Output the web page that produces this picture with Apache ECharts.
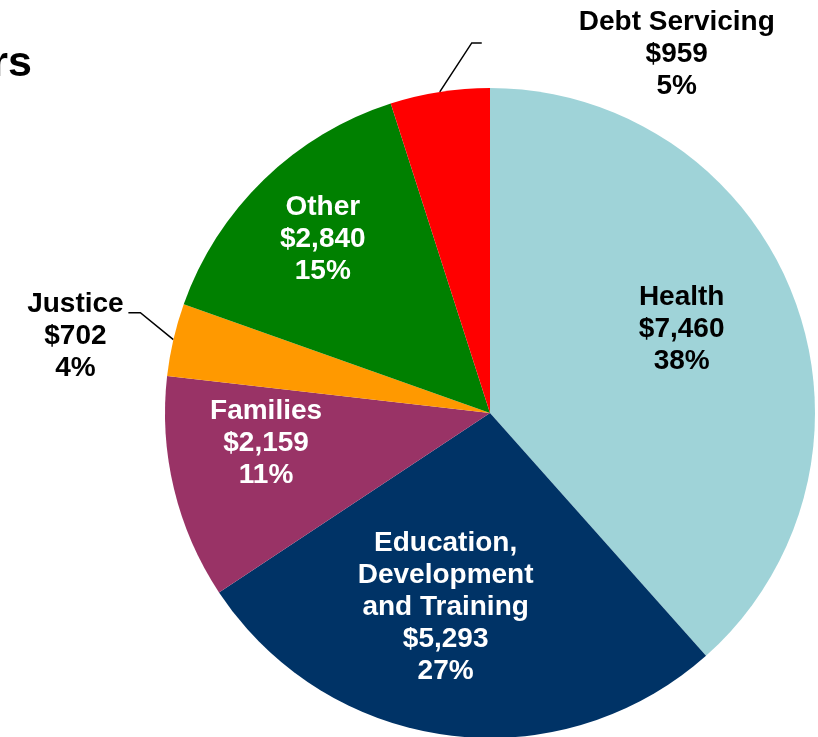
<!DOCTYPE html>
<html>
<head>
<meta charset="utf-8">
<script src="https://cdn.jsdelivr.net/npm/echarts@6/dist/echarts.min.js"></script>
<style>
  html, body { margin: 0; padding: 0; background: #fff; }
  #chart { width: 818px; height: 737px; }
</style>
</head>
<body>
<div id="chart"></div>
<script>
// spending by area ($ millions)
const categories = ['Health', 'Education,\nDevelopment\nand Training', 'Families', 'Justice', 'Other', 'Debt Servicing'];
const values = [7460, 5293, 2159, 702, 2840, 959];
const colors = ['#9fd3d8', '#003366', '#993366', '#ff9900', '#008000', '#ff0000'];
const labelColors = ['#000', '#fff', '#fff', '#000', '#fff', '#000'];
const outside = ['Justice', 'Debt Servicing'];

const FONT = '"Liberation Sans", Arial, sans-serif';

// nudges for the inside labels (px from echarts' default r/2 spot)
const insideOffset = {
	'Health': [37, -25],
	'Education,\nDevelopment\nand Training': [-23, 30],
	'Families': [-63, -8],
	'Other': [-52, -55]
};
// outside labels: label top-centre and leader bends, relative to arc anchor
const outsideLayout = {
	'Justice': { label: [-98, -51], bend: [-33, -27], end: [-45, -27] },
	'Debt Servicing': { label: [237, -86], bend: [32, -49], end: [42, -49] }
};

const chart = echarts.init(document.getElementById('chart'));

const data = categories.map((name, i) => {
	const isOut = outside.indexOf(name) >= 0;
	return {
		name: name,
		value: values[i],
		itemStyle: { color: colors[i] },
		label: isOut
			? { position: 'outside', color: labelColors[i] }
			: { position: 'inside', color: labelColors[i], offset: insideOffset[name] },
		labelLine: { show: isOut }
	};
});

chart.setOption({
	animation: false,
	graphic: [
		{
			type: 'text',
			x: 32,
			y: 64,
			style: {
				text: 'rs',
				font: 'bold 43px ' + FONT,
				fill: '#000',
				align: 'right',
				verticalAlign: 'middle'
			}
		}
	],
	series: [
		{
			type: 'pie',
			center: [490, 413],
			radius: 325,
			startAngle: 90,
			clockwise: true,
			avoidLabelOverlap: false,
			percentPrecision: 0,
			itemStyle: { borderWidth: 0 },
			label: {
				show: true,
				fontFamily: FONT,
				fontSize: 28,
				fontWeight: 'bold',
				lineHeight: 32,
				align: 'center',
				formatter: p => p.name + '\n$' + p.value.toLocaleString('en-US') + '\n' + p.percent + '%'
			},
			labelLine: {
				show: false,
				lineStyle: { color: '#000', width: 1.5 }
			},
			labelLayout: function (params) {
				const name = categories[params.dataIndex];
				const cfg = outsideLayout[name];
				if (!cfg || !params.labelLinePoints) {
					return {};
				}
				const a = params.labelLinePoints[0];
				return {
					x: a[0] + cfg.label[0],
					y: a[1] + cfg.label[1],
					align: 'center',
					verticalAlign: 'top',
					labelLinePoints: [
						[a[0], a[1]],
						[a[0] + cfg.bend[0], a[1] + cfg.bend[1]],
						[a[0] + cfg.end[0], a[1] + cfg.end[1]]
					]
				};
			},
			emphasis: { disabled: true },
			data: data
		}
	]
});
</script>
</body>
</html>
